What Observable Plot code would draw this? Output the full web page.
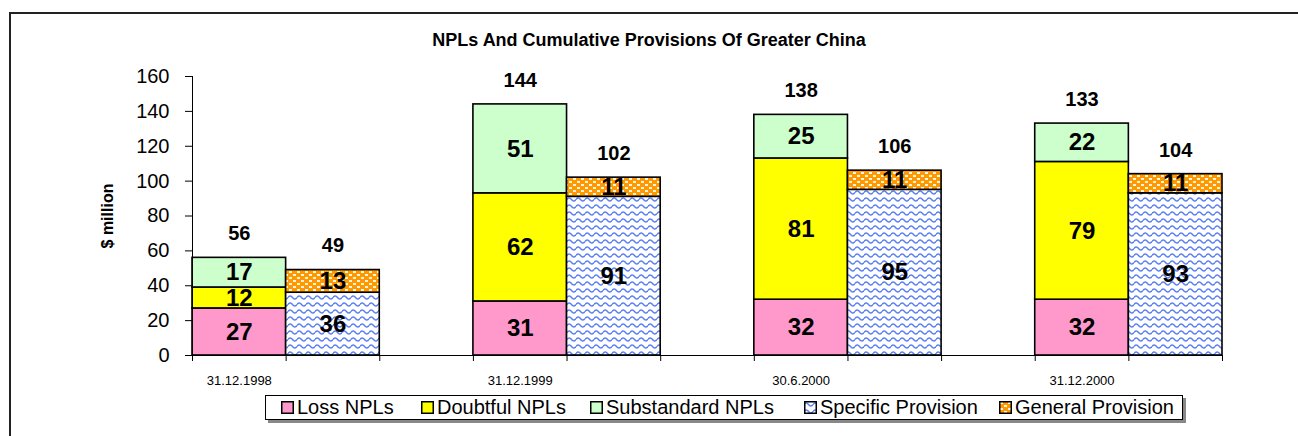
<!DOCTYPE html>
<html>
<head>
<meta charset="utf-8">
<script src="https://cdn.jsdelivr.net/npm/d3@7"></script>
<script src="https://cdn.jsdelivr.net/npm/@observablehq/plot@0.6"></script>
<style>
  html, body { margin: 0; padding: 0; background: #fff; overflow: hidden; }
  body { width: 1298px; height: 436px; position: relative; font-family: Arial, "Liberation Sans", sans-serif; }
  #frame { position: absolute; left: 9px; top: 12px; width: 1310px; height: 440px; border-top: 2px solid #222; border-left: 2px solid #222; box-sizing: border-box; }
  #title { position: absolute; left: 0; width: 1298px; top: 30px; text-align: center; font-weight: bold; font-size: 18px; color: #000; }
  #chart { position: absolute; left: 0; top: 0; }
  #ytitle { position: absolute; left: 108px; top: 216px; transform: translate(-50%, -50%) rotate(-90deg); font-weight: bold; font-size: 16px; white-space: nowrap; }
  #legend { position: absolute; left: 265px; top: 395px; width: 918px; height: 25px; border: 1px solid #000; box-sizing: border-box; background: #fff; box-shadow: 3px 3px 0 #888; }
  .item { position: absolute; top: 0; height: 23px; display: flex; align-items: center; font-size: 20px; white-space: nowrap; }
  .item svg { margin-right: 3px; }
</style>
</head>
<body>
<div id="frame"></div>
<div id="chart"></div>
<div id="title">NPLs And Cumulative Provisions Of Greater China</div>
<div id="ytitle">$ million</div>
<div id="legend"></div>
<script>
// ---- data ----
const dates = ["31.12.1998", "31.12.1999", "30.6.2000", "31.12.2000"];
const lossNPLs = [27, 31, 32, 32];
const doubtfulNPLs = [12, 62, 81, 79];
const substandardNPLs = [17, 51, 25, 22];
const specificProvision = [36, 91, 95, 93];
const generalProvision = [13, 11, 11, 11];
const npLTotals = [56, 144, 138, 133];
const provisionTotals = [49, 102, 106, 104];
const yTicks = [0, 20, 40, 60, 80, 100, 120, 140, 160];

const seriesInfo = [
  {name: "Loss NPLs", values: lossNPLs, group: 0, fill: "#FF99CC"},
  {name: "Doubtful NPLs", values: doubtfulNPLs, group: 0, fill: "#FFFF00"},
  {name: "Substandard NPLs", values: substandardNPLs, group: 0, fill: "#CCFFCC"},
  {name: "Specific Provision", values: specificProvision, group: 1, fill: "url(#wavePat)"},
  {name: "General Provision", values: generalProvision, group: 1, fill: "url(#dotPat)"}
];

// build stacked table: slot = 3*dateIndex + group (0 = NPLs, 1 = provisions)
const rows = [];
const base = {};
for (const s of seriesInfo) {
  s.values.forEach((v, i) => {
    const slot = 3 * i + s.group;
    const y1 = base[slot] || 0;
    const y2 = y1 + v;
    base[slot] = y2;
    rows.push({series: s.name, slot, x1: slot, x2: slot + 1, y1, y2, v, fill: s.fill});
  });
}
const totals = [];
dates.forEach((d, i) => {
  totals.push({x: 3 * i + 0.5, y: npLTotals[i]});
  totals.push({x: 3 * i + 1.5, y: provisionTotals[i]});
});
const catLabels = dates.map((d, i) => ({x: 3 * i + 0.5, label: d}));
const slots = d3.range(12);

const marks = [];
for (const s of seriesInfo) {
  marks.push(Plot.rect(rows.filter(r => r.series === s.name), {
    x1: "x1", x2: "x2", y1: "y1", y2: "y2",
    fill: s.fill, stroke: "#000", strokeWidth: 1.6
  }));
}
marks.push(
  Plot.axisY({ticks: yTicks, tickSize: 7, tickPadding: 16, fontSize: 20, stroke: "#000"}),
  Plot.axisX({ticks: slots, tickSize: 6, tickFormat: () => "", stroke: "#000"}),
  Plot.ruleY([0], {stroke: "#000", strokeWidth: 1}),
  Plot.ruleX([0], {stroke: "#000", strokeWidth: 1}),
  Plot.text(rows, {x: d => (d.x1 + d.x2) / 2, y: d => (d.y1 + d.y2) / 2, text: d => String(d.v),
    fontSize: 24, fontWeight: "bold", fill: "#000"}),
  Plot.text(totals, {x: "x", y: "y", text: d => String(d.y), dy: -24, fontSize: 20, fontWeight: "bold", fill: "#000"}),
  Plot.text(catLabels, {x: "x", y: () => 0, text: "label", dy: 25, fontSize: 13, fill: "#000"})
);

const chart = Plot.plot({
  width: 1298,
  height: 436,
  marginLeft: 192,
  marginRight: 76,
  marginTop: 76,
  marginBottom: 81,
  style: {fontFamily: "Arial, 'Liberation Sans', sans-serif", background: "transparent", color: "#000"},
  x: {type: "linear", domain: [0, 11]},
  y: {domain: [0, 160]},
  marks
});

// patterns
const defs = d3.select(chart).insert("defs", ":first-child");
const wave = defs.append("pattern").attr("id", "wavePat").attr("patternUnits", "userSpaceOnUse")
  .attr("width", 9).attr("height", 7);
wave.append("rect").attr("width", 9).attr("height", 7).attr("fill", "#fff");
wave.append("path").attr("d", "M0 3.5 Q2.25 0.5 4.5 3.5 T9 3.5").attr("fill", "none")
  .attr("stroke", "#5A7FF5").attr("stroke-width", 1.5);
const dot = defs.append("pattern").attr("id", "dotPat").attr("patternUnits", "userSpaceOnUse")
  .attr("width", 8).attr("height", 6);
dot.append("rect").attr("width", 8).attr("height", 6).attr("fill", "#FF9900");
dot.append("rect").attr("x", 1).attr("y", 1).attr("width", 3).attr("height", 2).attr("fill", "#FFF4E0");
dot.append("rect").attr("x", 5).attr("y", 4).attr("width", 3).attr("height", 2).attr("fill", "#FFF4E0");

document.getElementById("chart").appendChild(chart);

// legend
const legendX = [15, 155, 324, 538, 733];
const legend = document.getElementById("legend");
seriesInfo.forEach((s, i) => {
  const item = document.createElement("div");
  item.className = "item";
  item.style.left = legendX[i] + "px";
  item.innerHTML = `<svg width="13" height="13"><rect x="0.75" y="0.75" width="11.5" height="11.5" fill="${s.fill}" stroke="#000" stroke-width="1.5"/></svg><span>${s.name}</span>`;
  legend.appendChild(item);
});
</script>
</body>
</html>
